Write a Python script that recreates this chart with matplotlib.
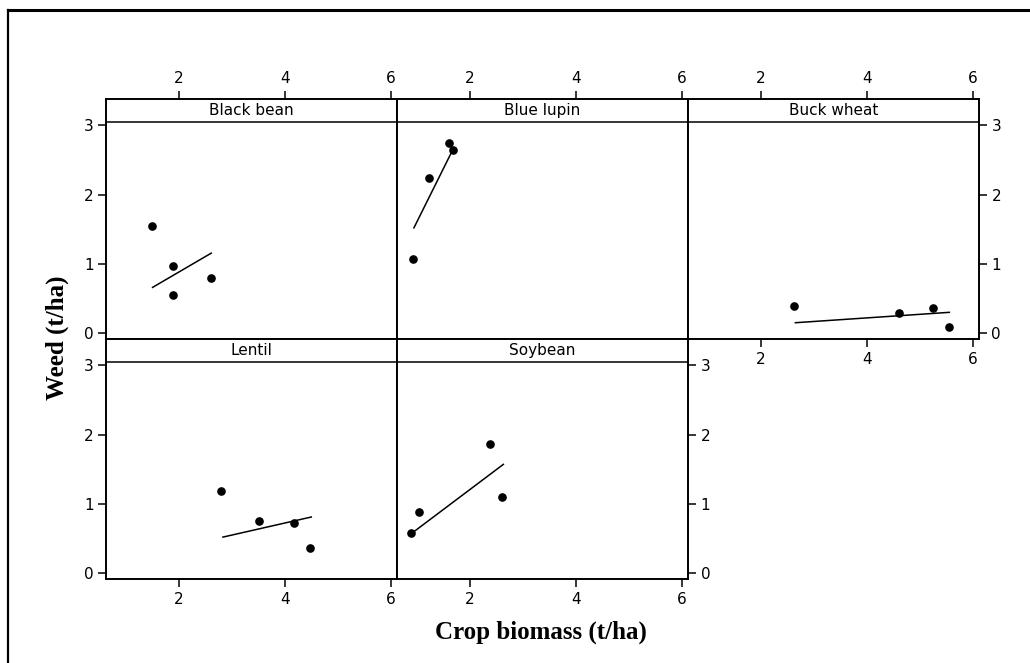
import matplotlib
matplotlib.use("Agg")
import matplotlib.pyplot as plt
from matplotlib.lines import Line2D
from matplotlib.transforms import blended_transform_factory

# ---- data ----
crops = ["Black bean", "Blue lupin", "Buck wheat", "Lentil", "Soybean"]

black_bean_x = [1.48, 1.89, 1.89, 2.60]
black_bean_y = [1.54, 0.97, 0.55, 0.80]
black_bean_fit_x = [1.50, 2.61]
black_bean_fit_y = [0.66, 1.155]

blue_lupin_x = [1.60, 1.67, 1.23, 0.92]
blue_lupin_y = [2.74, 2.64, 2.24, 1.07]
blue_lupin_fit_x = [0.94, 1.65]
blue_lupin_fit_y = [1.52, 2.61]

buck_wheat_x = [2.62, 4.61, 5.26, 5.56]
buck_wheat_y = [0.39, 0.29, 0.36, 0.09]
buck_wheat_fit_x = [2.65, 5.56]
buck_wheat_fit_y = [0.15, 0.30]

lentil_x = [2.80, 3.52, 4.17, 4.48]
lentil_y = [1.19, 0.75, 0.73, 0.36]
lentil_fit_x = [2.83, 4.50]
lentil_fit_y = [0.52, 0.81]

soybean_x = [0.89, 1.03, 2.38, 2.61]
soybean_y = [0.58, 0.88, 1.87, 1.10]
soybean_fit_x = [0.89, 2.63]
soybean_fit_y = [0.57, 1.57]

x_ticks = [2, 4, 6]
y_ticks = [0, 1, 2, 3]
x_label = "Crop biomass (t/ha)"
y_label = "Weed (t/ha)"

series = [
    (black_bean_x, black_bean_y, black_bean_fit_x, black_bean_fit_y),
    (blue_lupin_x, blue_lupin_y, blue_lupin_fit_x, blue_lupin_fit_y),
    (buck_wheat_x, buck_wheat_y, buck_wheat_fit_x, buck_wheat_fit_y),
    (lentil_x, lentil_y, lentil_fit_x, lentil_fit_y),
    (soybean_x, soybean_y, soybean_fit_x, soybean_fit_y),
]

# ---- layout ----
W, H = 1030, 663
fig = plt.figure(figsize=(W / 100, H / 100), dpi=100)
fig.patch.set_facecolor("white")

plt.rcParams["font.family"] = ["DejaVu Sans"]

left_px = 106
col_w = 291
row_tops = [99, 339]
row_h = 240
positions = [(0, 0), (0, 1), (0, 2), (1, 0), (1, 1)]

# tick config: (top_x, bottom_x, left_y, right_y)
tick_cfg = [
    (True, False, True, False),
    (True, False, False, False),
    (True, True, False, True),
    (False, True, True, False),
    (False, True, False, True),
]

xlim = (0.62, 6.12)
ylim = (-0.085, 3.38)
strip_y = 3.05
tick_fs = 11

for i, crop in enumerate(crops):
    r, c = positions[i]
    x0 = left_px + c * col_w
    y0 = row_tops[r]
    ax = fig.add_axes([x0 / W, 1 - (y0 + row_h) / H, col_w / W, row_h / H])
    xs, ys, fx, fy = series[i]
    ax.plot(xs, ys, "o", color="black", markersize=5.2, zorder=3)
    ax.plot(fx, fy, "-", color="black", linewidth=1.1, zorder=2)
    ax.set_xlim(*xlim)
    ax.set_ylim(*ylim)
    ax.axhline(strip_y, color="black", linewidth=1.1)
    tr = blended_transform_factory(ax.transAxes, ax.transData)
    ax.text(0.5, (strip_y + ylim[1]) / 2, crop, transform=tr, ha="center",
            va="center", fontsize=tick_fs)
    for sp in ax.spines.values():
        sp.set_linewidth(1.4)
    top_x, bot_x, left_y, right_y = tick_cfg[i]
    ax.set_xticks(x_ticks)
    ax.set_yticks(y_ticks)
    ax.tick_params(axis="x", top=top_x, labeltop=top_x, bottom=bot_x,
                   labelbottom=bot_x, direction="out", length=6, width=1.1,
                   labelsize=tick_fs, pad=3)
    ax.tick_params(axis="y", left=left_y, labelleft=left_y, right=right_y,
                   labelright=right_y, direction="out", length=6, width=1.1,
                   labelsize=tick_fs, pad=3)

# axis titles
fig.text(57 / W, 1 - 338 / H, y_label, rotation=90, ha="center", va="center",
         fontsize=18, fontweight="bold", family="Liberation Serif")
fig.text(541 / W, 1 - 632 / H, x_label, ha="center", va="center",
         fontsize=18, fontweight="bold", family="Liberation Serif")

# outer frame (top and left edges)
fig.add_artist(Line2D([8 / W, 1.0], [1 - 9.5 / H, 1 - 9.5 / H],
                      transform=fig.transFigure, color="black", linewidth=2.2))
fig.add_artist(Line2D([8 / W, 8 / W], [0.0, 1 - 9.5 / H],
                      transform=fig.transFigure, color="black", linewidth=1.6))

fig.savefig("out.png", dpi=100, facecolor="white")
